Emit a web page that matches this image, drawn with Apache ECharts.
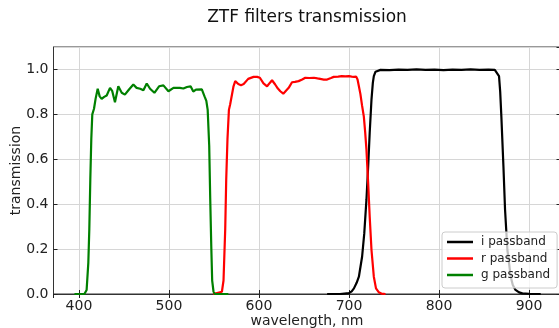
<!DOCTYPE html>
<html><head><meta charset="utf-8">
<script src="https://cdn.jsdelivr.net/npm/echarts@6/dist/echarts.min.js"></script>
<style>html,body{margin:0;padding:0;background:#fff}#c{width:559px;height:328px}</style>
</head><body><div id="c"></div>
<script>
const titleText = 'ZTF filters transmission';
const xName = 'wavelength, nm';
const yName = 'transmission';
const seriesNames = ['i passband', 'r passband', 'g passband'];
const seriesColors = ['#000000', '#ff0000', '#008000'];

const gWave = [395, 406, 408.5, 410.4, 411.5, 412.6, 413.7, 414.8, 416.7, 418.5, 420.8, 423, 425.2, 428, 430.8, 434.5, 437, 440, 443.7, 447.5, 451, 455.6, 460.4, 464, 468, 471.6, 475.3, 479, 483.8, 489, 493.8, 499.4, 505, 512, 516, 520, 524, 527, 530, 532, 536.5, 539.5, 541.5, 543, 544.7, 545.8, 547, 548, 549.5, 551, 566];
const gTrans = [0, 0, 0.018, 0.14, 0.29, 0.51, 0.69, 0.80, 0.825, 0.87, 0.914, 0.88, 0.869, 0.878, 0.884, 0.918, 0.903, 0.854, 0.925, 0.896, 0.888, 0.911, 0.933, 0.918, 0.914, 0.907, 0.9375, 0.914, 0.896, 0.925, 0.929, 0.903, 0.918, 0.918, 0.915, 0.922, 0.925, 0.902, 0.91, 0.918, 0.911, 0.88, 0.86, 0.82, 0.66, 0.43, 0.21, 0.06, 0.01, 0, 0];

const rWave = [549, 558.8, 560.6, 562.5, 563.6, 565, 566.6, 568, 570, 571.7, 573.6, 577, 580, 583, 588, 594, 598, 601, 605, 609, 612, 614.5, 618, 621, 623.7, 627, 629, 633, 636.7, 640, 644, 648, 651.5, 656, 661, 665, 668, 672, 675.7, 680, 683, 688, 692, 696, 700, 703, 705.5, 708, 709.5, 711, 712.7, 714.5, 716.5, 718, 719.4, 721.3, 723, 725, 727.6, 730, 733, 736, 740.6];
const rTrans = [0, 0.01, 0.06, 0.29, 0.51, 0.69, 0.82, 0.845, 0.85, 0.925, 0.948, 0.935, 0.93, 0.935, 0.958, 0.967, 0.967, 0.963, 0.938, 0.925, 0.94, 0.952, 0.933, 0.915, 0.903, 0.892, 0.896, 0.918, 0.943, 0.945, 0.948, 0.955, 0.963, 0.962, 0.963, 0.96, 0.958, 0.955, 0.955, 0.962, 0.967, 0.968, 0.97, 0.969, 0.97, 0.968, 0.967, 0.968, 0.955, 0.925, 0.89, 0.84, 0.79, 0.72, 0.643, 0.494, 0.345, 0.196, 0.077, 0.025, 0.008, 0.002, 0];

const iWave = [675.7, 690, 700, 703, 705.5, 708.5, 711, 714.6, 717, 719.4, 721.3, 723, 725, 726.5, 727.6, 729.5, 731, 735, 745, 755, 765, 775, 785, 795, 805, 815, 825, 835, 845, 855, 862, 864, 866.7, 868, 869.3, 871.6, 873.4, 876, 879.7, 882, 885, 889, 892.7, 900, 913];
const iTrans = [0, 0, 0.004, 0.012, 0.025, 0.05, 0.077, 0.167, 0.271, 0.42, 0.568, 0.717, 0.866, 0.94, 0.97, 0.99, 0.997, 0.998, 0.997, 0.999, 0.998, 1.0, 0.998, 0.999, 0.997, 0.999, 0.998, 1.0, 0.998, 0.999, 0.998, 0.99, 0.97, 0.9, 0.79, 0.568, 0.375, 0.196, 0.077, 0.04, 0.018, 0.007, 0.003, 0.001, 0];

const xMin = 371.7, xMax = 935;
const yMin = 0, yMax = 1.1, yStep = 0.2;

function zip(a, b) { return a.map((v, k) => [v, b[k]]); }
const seriesData = [zip(iWave, iTrans), zip(rWave, rTrans), zip(gWave, gTrans)];

const FONT = 'DejaVu Sans';
const chart = echarts.init(document.getElementById('c'), null, {renderer: 'canvas'});
const tickStyle = {show: true, inside: true, length: 4, lineStyle: {color: '#222', width: 1}};
const gridLine = {show: true, lineStyle: {color: '#d6d6d6', width: 1}};
chart.setOption({
  animation: false,
  backgroundColor: '#fff',
  title: {
    text: titleText, left: 307, top: 9, textAlign: 'center', padding: 0,
    textStyle: {fontFamily: FONT, fontSize: 17, fontWeight: 'normal', color: '#111'}
  },
  grid: {left: 53.5, right: -1.5, top: 47, bottom: 34, show: true, borderColor: '#333', borderWidth: 1,
    containLabel: false, outerBoundsMode: 'none'},
  legend: {
    data: seriesNames, orient: 'vertical', left: 442, top: 232, z: 10,
    icon: 'rect', itemWidth: 26, itemHeight: 2.5, itemGap: 2.5,
    padding: [3, 7, 6, 5],
    backgroundColor: 'rgba(255,255,255,0.75)', borderColor: '#cccccc', borderWidth: 1, borderRadius: 3,
    textStyle: {fontFamily: FONT, fontSize: 12, color: '#222', lineHeight: 14, padding: [0, 0, 0, 3]}
  },
  xAxis: [{
    type: 'value', min: xMin, max: xMax, name: xName, nameLocation: 'middle', nameGap: 20, nameMoveOverlap: false,
    nameTextStyle: {fontFamily: FONT, fontSize: 14, color: '#222'},
    axisLine: {show: true, onZero: false, lineStyle: {color: '#333', width: 1}},
    axisTick: tickStyle, splitLine: gridLine,
    axisLabel: {fontFamily: FONT, fontSize: 14, color: '#222', margin: 5, showMinLabel: false, showMaxLabel: false}
  }, {
    type: 'value', min: xMin, max: xMax, position: 'top',
    axisLine: {show: false}, axisTick: tickStyle, splitLine: {show: false}, axisLabel: {show: false}
  }],
  yAxis: [{
    type: 'value', min: yMin, max: yMax, interval: yStep, name: yName, nameLocation: 'middle', nameGap: 30, nameMoveOverlap: false,
    nameTextStyle: {fontFamily: FONT, fontSize: 14, color: '#222'},
    axisLine: {show: true, lineStyle: {color: '#333', width: 1}},
    axisTick: tickStyle, splitLine: gridLine,
    axisLabel: {fontFamily: FONT, fontSize: 14, color: '#222', margin: 5, showMaxLabel: false, formatter: v => v.toFixed(1)}
  }, {
    type: 'value', min: yMin, max: yMax, interval: yStep, position: 'right',
    axisLine: {show: false}, axisTick: tickStyle, splitLine: {show: false}, axisLabel: {show: false}
  }],
  series: seriesNames.map((n, k) => ({
    name: n, type: 'line', data: seriesData[k], showSymbol: false, symbol: 'none',
    xAxisIndex: 0, yAxisIndex: 0,
    lineStyle: {color: seriesColors[k], width: 2.2}, itemStyle: {color: seriesColors[k]},
    smooth: false
  }))
});
</script>
</body></html>
